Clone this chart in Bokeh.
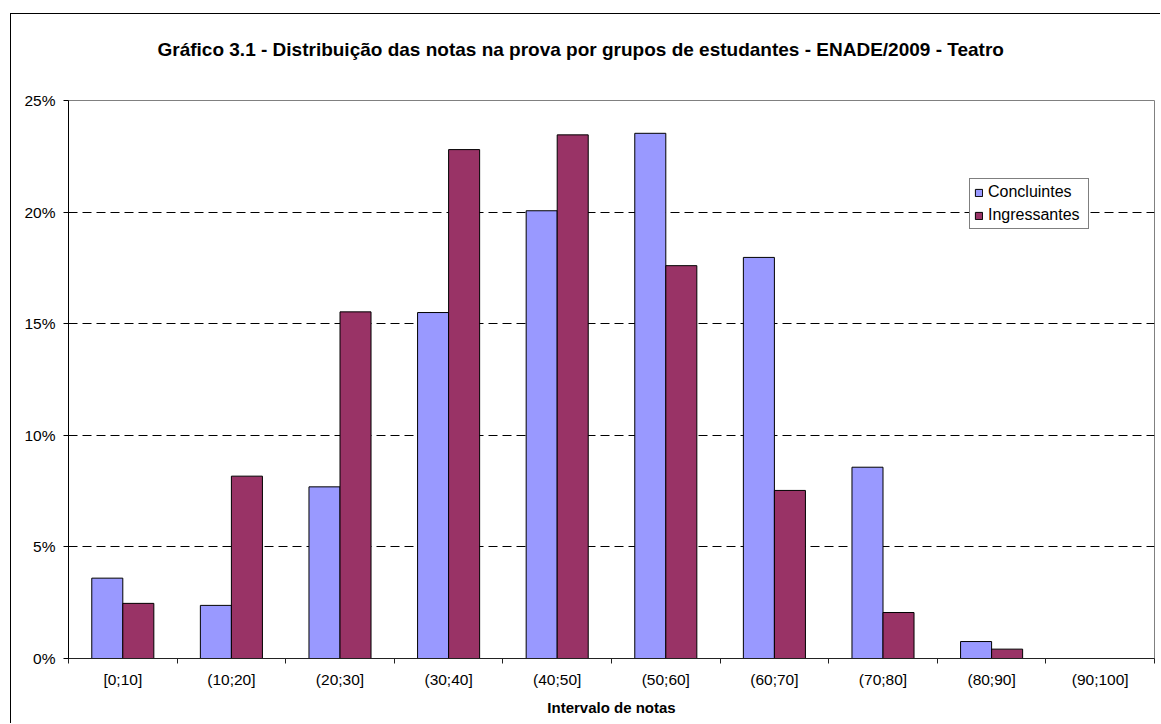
from bokeh.plotting import figure
from bokeh.models import Range1d, FixedTicker, PrintfTickFormatter, Legend, LegendItem, Title
from bokeh.transform import dodge
from bokeh.embed import file_html
from bokeh.resources import INLINE

categories = ["[0;10]", "(10;20]", "(20;30]", "(30;40]", "(40;50]",
              "(50;60]", "(60;70]", "(70;80]", "(80;90]", "(90;100]"]
concluintes = [3.60, 2.38, 7.69, 15.50, 20.06, 23.53, 17.97, 8.57, 0.76, 0.0]
ingressantes = [2.47, 8.17, 15.53, 22.80, 23.46, 17.60, 7.53, 2.06, 0.42, 0.0]
y_ticks = [0, 5, 10, 15, 20, 25]

title_text = "Gráfico 3.1 - Distribuição das notas na prova por grupos de estudantes - ENADE/2009 - Teatro"
x_title = "Intervalo de notas"

FONT = "Liberation Sans"

x_pos = [i + 0.5 for i in range(len(categories))]
src = dict(x=x_pos, conc=concluintes, ingr=ingressantes, cat=categories)

p = figure(width=1150, height=710, output_backend="svg", toolbar_location=None,
           x_range=Range1d(0, len(categories)), y_range=Range1d(0, 25),
           min_border_left=57, min_border_right=7, min_border_top=86, min_border_bottom=66,
           styles={"border-left": "1px solid black", "border-top": "1px solid black"},
           margin=(13, 0, 0, 10))

p.background_fill_color = "white"
p.border_fill_color = "white"
p.outline_line_color = "#808080"
p.outline_line_width = 1

bw = 1.0 / 3.5
r1 = p.vbar(x=dodge("x", -bw / 2, range=p.x_range), top="conc", width=bw, source=src,
            fill_color="#9999FF", line_color="black", line_width=1)
r2 = p.vbar(x=dodge("x", bw / 2, range=p.x_range), top="ingr", width=bw, source=src,
            fill_color="#993366", line_color="black", line_width=1)

# grid
p.xgrid.grid_line_color = None
p.ygrid.ticker = FixedTicker(ticks=y_ticks[1:-1])
p.ygrid.grid_line_color = "black"
p.ygrid.grid_line_dash = "9 5"
p.ygrid.grid_line_width = 1

# y axis
ya = p.yaxis[0]
ya.ticker = FixedTicker(ticks=y_ticks)
ya.formatter = PrintfTickFormatter(format="%d%%")
ya.axis_line_color = "black"
ya.major_tick_line_color = "black"
ya.major_tick_out = 5
ya.major_tick_in = 0
ya.minor_tick_line_color = None
ya.major_label_standoff = 8
ya.major_label_text_font = FONT
ya.major_label_text_font_size = "15.5px"
ya.major_label_text_color = "black"

# x axis
xa = p.xaxis[0]
xa.ticker = FixedTicker(ticks=x_pos, minor_ticks=list(range(len(categories) + 1)))
xa.major_label_overrides = {x: c for x, c in zip(x_pos, categories)}
xa.axis_line_color = "#222222"
xa.major_tick_line_color = None
xa.major_tick_out = 5
xa.major_tick_in = 0
xa.minor_tick_line_color = "#222222"
xa.minor_tick_out = 5
xa.minor_tick_in = 0
xa.major_label_standoff = 7
xa.major_label_text_font = FONT
xa.major_label_text_font_size = "15.5px"
xa.major_label_text_color = "black"
xa.axis_label = x_title
xa.axis_label_text_font = FONT
xa.axis_label_text_font_size = "15px"
xa.axis_label_text_font_style = "bold"
xa.axis_label_text_color = "black"
xa.axis_label_standoff = 8

# main title (farther from the frame) and a blank spacer between it and the frame
p.title.text = title_text
p.title.text_font = FONT
p.title.text_font_size = "19px"
p.title.text_font_style = "bold"
p.title.text_color = "black"
p.title.align = "left"
p.title.offset = 89
p.title.standoff = 0
spacer = Title(text=" ", text_font_size="10px", standoff=28)
p.add_layout(spacer, "above")

legend = Legend(items=[LegendItem(label="Concluintes", renderers=[r1]),
                       LegendItem(label="Ingressantes", renderers=[r2])],
                location=(901, 429), orientation="vertical")
legend.border_line_color = "black"
legend.border_line_width = 1
legend.background_fill_color = "white"
legend.background_fill_alpha = 1
legend.label_text_font = FONT
legend.label_text_font_size = "16px"
legend.label_text_color = "black"
legend.glyph_width = 9
legend.glyph_height = 9
legend.label_standoff = 5
legend.label_width = 96
legend.label_height = 17
legend.spacing = 5
legend.padding = 4
legend.margin = 0
p.add_layout(legend)

open("out.html", "w").write(file_html(p, INLINE))
